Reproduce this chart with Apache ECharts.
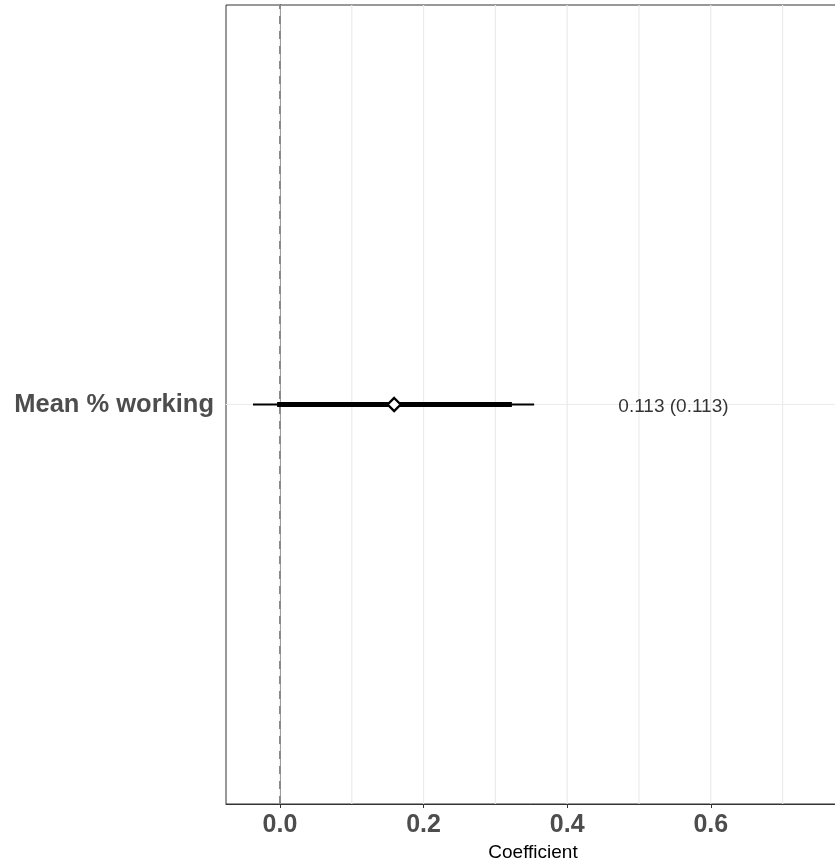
<!DOCTYPE html>
<html>
<head>
<meta charset="utf-8">
<script src="https://cdn.jsdelivr.net/npm/echarts@6/dist/echarts.min.js"></script>
<style>html,body{margin:0;padding:0;background:#fff;}#chart{width:835px;height:861px;}</style>
</head>
<body>
<div id="chart"></div>
<script>
const categories = ['Mean % working'];
const estimates = [0.159];
const outerLow = [-0.0376];
const outerHigh = [0.354];
const innerLow = [-0.004];
const innerHigh = [0.323];
const estLabels = ['0.113 (0.113)'];
const labelX = [0.548];
const tickValues = [0, 0.2, 0.4, 0.6];
const minorGrid = [0.1, 0.3, 0.5, 0.7];
const xMin = -0.0752, xMax = 0.780;

const FONT = "'Liberation Sans', Arial, Helvetica, sans-serif";
const chart = echarts.init(document.getElementById('chart'), null, {renderer: 'canvas'});

const series = [];
// vertical gridlines (on hidden value axis spanning the panel height)
tickValues.concat(minorGrid).forEach(v => {
  series.push({type: 'line', yAxisIndex: 1, z: 1, symbol: 'none', silent: true,
    lineStyle: {color: '#ebebeb', width: 1.2}, data: [[v, 0], [v, 1]]});
});
// horizontal gridlines at categories
categories.forEach(c => {
  series.push({type: 'line', yAxisIndex: 0, z: 1, symbol: 'none', silent: true,
    lineStyle: {color: '#ebebeb', width: 1.2}, data: [[xMin, c], [xMax, c]]});
});
// zero reference
series.push({type: 'line', yAxisIndex: 1, z: 2, symbol: 'none', silent: true,
  lineStyle: {color: '#8a8a8a', width: 2, type: [8, 7]}, data: [[0, 0], [0, 1]]});
categories.forEach((c, i) => {
  series.push({type: 'line', z: 3, symbol: 'none', silent: true,
    lineStyle: {color: '#000', width: 2}, data: [[outerLow[i], c], [outerHigh[i], c]]});
  series.push({type: 'line', z: 4, symbol: 'none', silent: true,
    lineStyle: {color: '#000', width: 5}, data: [[innerLow[i], c], [innerHigh[i], c]]});
});
series.push({type: 'scatter', z: 5, symbol: 'diamond', symbolSize: [13, 13],
  itemStyle: {color: '#fff', borderColor: '#000', borderWidth: 2.4, opacity: 1},
  data: categories.map((c, i) => [estimates[i], c])});
series.push({type: 'scatter', z: 5, symbolSize: 0,
  label: {show: true, position: 'inside', color: '#000', fontSize: 19, fontFamily: FONT, offset: [0, 2],
    formatter: p => estLabels[p.dataIndex]},
  data: categories.map((c, i) => [labelX[i], c])});

chart.setOption({
  animation: false,
  grid: {left: 226, top: 5, right: -5, bottom: 57, outerBoundsMode: 'none', containLabel: false,
    show: true, borderColor: '#333', borderWidth: 1, backgroundColor: 'transparent'},
  xAxis: {
    type: 'value', min: xMin, max: xMax,
    name: 'Coefficient', nameLocation: 'middle', nameGap: 38,
    nameTextStyle: {color: '#000', fontSize: 19, fontFamily: FONT},
    axisLine: {show: true, onZero: false, lineStyle: {color: '#333', width: 1}},
    axisTick: {show: true, length: 4, customValues: tickValues, lineStyle: {color: '#333'}},
    axisLabel: {customValues: tickValues, color: '#4d4d4d', fontSize: 25, fontWeight: 'bold', fontFamily: FONT, margin: 9,
      formatter: v => v.toFixed(1)},
    splitLine: {show: false}
  },
  yAxis: [{
    type: 'category', data: categories,
    axisLine: {show: true, lineStyle: {color: '#333'}},
    axisTick: {show: true, length: 4, alignWithLabel: true, lineStyle: {color: '#333'}},
    axisLabel: {color: '#4d4d4d', fontSize: 25.5, fontWeight: 'bold', fontFamily: FONT, margin: 12, padding: [5, 0, 0, 0]},
    splitLine: {show: false}
  }, {
    type: 'value', min: 0, max: 1, show: false, splitLine: {show: false}
  }],
  series: series
});
</script>
</body>
</html>
